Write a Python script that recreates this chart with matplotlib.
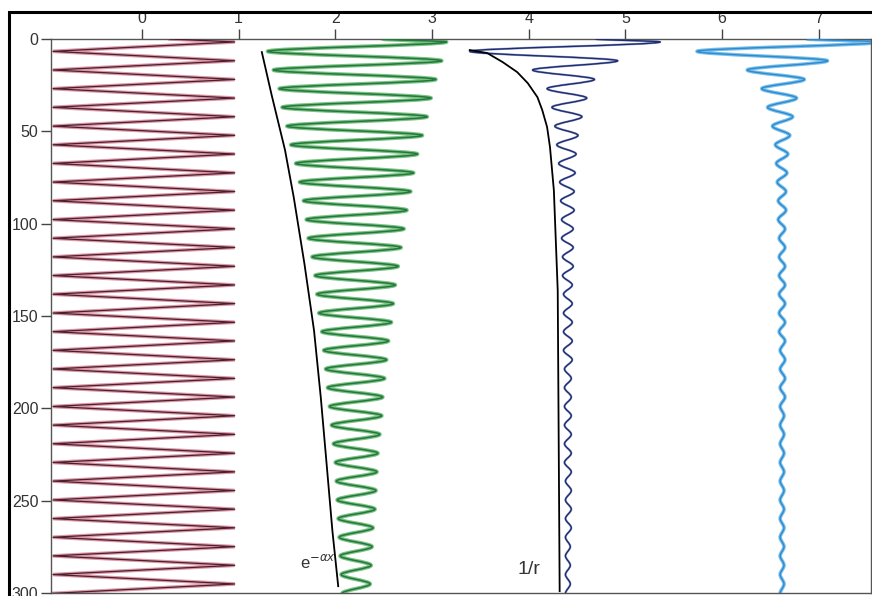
import numpy as np
import matplotlib
matplotlib.use("Agg")
import matplotlib.pyplot as plt
from matplotlib.path import Path
from matplotlib.patches import PathPatch, Rectangle

# depth of each turning point (right peak, left trough, right peak, ...)
TURN_DEPTH = [1.6, 6.7, 11.8, 16.8, 21.9, 26.9, 32.0, 37.0, 42.1, 47.2,
              52.2, 57.3, 62.3, 67.4, 72.5, 77.5, 82.6, 87.6, 92.7, 97.8,
              102.8, 107.9, 112.9, 118.0, 123.1, 128.1, 133.2, 138.2, 143.3, 148.4,
              153.4, 158.5, 163.5, 168.6, 173.7, 178.7, 183.8, 188.8, 193.9, 199.0,
              204.0, 209.1, 214.1, 219.2, 224.3, 229.3, 234.4, 239.4, 244.5, 249.6,
              254.6, 259.7, 264.7, 269.8, 274.9, 279.9, 285.0, 290.0, 295.1, 300.2]

# undamped trace
sq_start = 0.29
sq_right = 0.96
sq_left = -0.92

# exponentially damped trace
exp_start = 2.49
exp_right = [3.15, 3.10, 3.04, 2.99, 2.95, 2.90, 2.85, 2.81, 2.78, 2.74,
             2.71, 2.68, 2.65, 2.62, 2.60, 2.58, 2.55, 2.53, 2.51, 2.49,
             2.48, 2.46, 2.44, 2.43, 2.42, 2.41, 2.39, 2.38, 2.37, 2.36]
exp_left = [1.30, 1.36, 1.42, 1.45, 1.50, 1.54, 1.59, 1.63, 1.67, 1.70,
            1.72, 1.76, 1.79, 1.81, 1.83, 1.86, 1.88, 1.90, 1.92, 1.94,
            1.96, 1.98, 2.00, 2.01, 2.02, 2.03, 2.04, 2.05, 2.06, 2.07]
env_depth = [7.1, 30.0, 49.4, 60.2, 85.7, 121.5, 157.9, 194.2, 230.1, 266.4, 296.3]
env_x = [1.24, 1.34, 1.43, 1.48, 1.57, 1.68, 1.78, 1.85, 1.91, 1.97, 2.03]

# spherical spreading trace
sph_start = 4.69
sph_right = [5.36, 4.92, 4.68, 4.60, 4.55, 4.51, 4.49, 4.48, 4.47, 4.47,
             4.46, 4.46, 4.46, 4.45, 4.45, 4.45, 4.45, 4.45, 4.44, 4.44,
             4.44, 4.44, 4.44, 4.44, 4.44, 4.44, 4.44, 4.43, 4.43, 4.43]
sph_left = [3.39, 4.04, 4.19, 4.24, 4.27, 4.29, 4.31, 4.32, 4.33, 4.34,
            4.34, 4.35, 4.35, 4.36, 4.36, 4.36, 4.36, 4.37, 4.37, 4.37,
            4.37, 4.37, 4.37, 4.38, 4.38, 4.38, 4.38, 4.38, 4.38, 4.38]
inv_depth = [6.0, 7.6, 12.5, 17.9, 23.9, 31.5, 38.5, 47.7, 58.6, 81.9, 136.2, 217.6, 299.0]
inv_x = [3.39, 3.57, 3.73, 3.88, 3.99, 4.09, 4.14, 4.19, 4.22, 4.26, 4.30, 4.31, 4.32]

# combined trace
mix_start = 6.88
mix_right = [7.65, 7.09, 6.85, 6.77, 6.73, 6.70, 6.68, 6.67, 6.66, 6.66,
             6.65, 6.65, 6.65, 6.65, 6.65, 6.65, 6.65, 6.65, 6.65, 6.65,
             6.64, 6.64, 6.64, 6.64, 6.64, 6.64, 6.64, 6.64, 6.64, 6.64]
mix_left = [5.74, 6.26, 6.41, 6.47, 6.52, 6.55, 6.56, 6.57, 6.58, 6.58,
            6.59, 6.59, 6.59, 6.59, 6.59, 6.59, 6.60, 6.60, 6.60, 6.60,
            6.60, 6.60, 6.60, 6.60, 6.60, 6.60, 6.60, 6.60, 6.60, 6.60]

X_TICKS = [0, 1, 2, 3, 4, 5, 6, 7]
Y_TICKS = [0, 50, 100, 150, 200, 250, 300]


def trace(start, right, left):
    d = [0.0] + TURN_DEPTH
    x = [start]
    for r, l in zip(right, left):
        x += [r, l]
    return d, x


def smooth(ax, d, x, color, lw, z):
    # cubic segments with vertical tangents at each turning point
    verts, codes = [(x[0], d[0])], [Path.MOVETO]
    for i in range(1, len(d)):
        h = d[i] - d[i - 1]
        verts += [(x[i - 1], d[i - 1] + h / 3), (x[i], d[i] - h / 3), (x[i], d[i])]
        codes += [Path.CURVE4] * 3
    ax.add_patch(PathPatch(Path(verts, codes), fill=False, ec=color, lw=lw,
                           zorder=z, joinstyle="round", capstyle="round"))


plt.rcParams["font.family"] = ["Liberation Sans", "DejaVu Sans"]
fig = plt.figure(figsize=(8.72, 5.96), dpi=100)
ax = fig.add_axes([0.0585, 0.005, 0.9404, 0.9296])
ax.set_xlim(-0.94, 7.54)
ax.set_ylim(300, 0)

# undamped: straight zigzag
d, x = trace(sq_start, [sq_right] * 30, [sq_left] * 30)
ax.plot(x, d, color="#dc98a8", lw=2.6, solid_joinstyle="miter", zorder=2)
ax.plot(x, d, color="#4b1f2b", lw=0.9, zorder=3)

# damped
d, x = trace(exp_start, exp_right, exp_left)
smooth(ax, d, x, "#7cc286", 2.8, 2)
smooth(ax, d, x, "#23783a", 1.1, 3)
ax.plot(env_x, env_depth, color="black", lw=1.3, zorder=4)

d, x = trace(sph_start, sph_right, sph_left)
smooth(ax, d, x, "#9aa6cc", 1.6, 2)
smooth(ax, d, x, "#1f2d70", 1.0, 3)
ax.plot(inv_x, inv_depth, color="black", lw=1.3, zorder=4)

d, x = trace(mix_start, mix_right, mix_left)
smooth(ax, d, x, "#7cc0ea", 2.6, 2)
smooth(ax, d, x, "#2b8ad0", 1.0, 3)

ax.text(1.63, 283, r"e$^{-\alpha x}$", fontsize=12, color="#333333", va="center")
ax.text(4.12, 287, "1/r", fontsize=14, color="#333333", va="center", ha="right")

ax.xaxis.tick_top()
ax.set_xticks(X_TICKS)
ax.set_yticks(Y_TICKS)
ax.tick_params(axis="both", direction="out", length=7, width=1, color="#444444",
               labelsize=11.5, labelcolor="#333333", pad=2)
for s in ax.spines.values():
    s.set_color("#555555")
    s.set_linewidth(1.0)

# outer frame
fig.patches.append(Rectangle((0.0103, -0.5), 2.0, 1.48, transform=fig.transFigure,
                             fill=False, ec="black", lw=2.2, zorder=0))

fig.savefig("out.png", dpi=100)
